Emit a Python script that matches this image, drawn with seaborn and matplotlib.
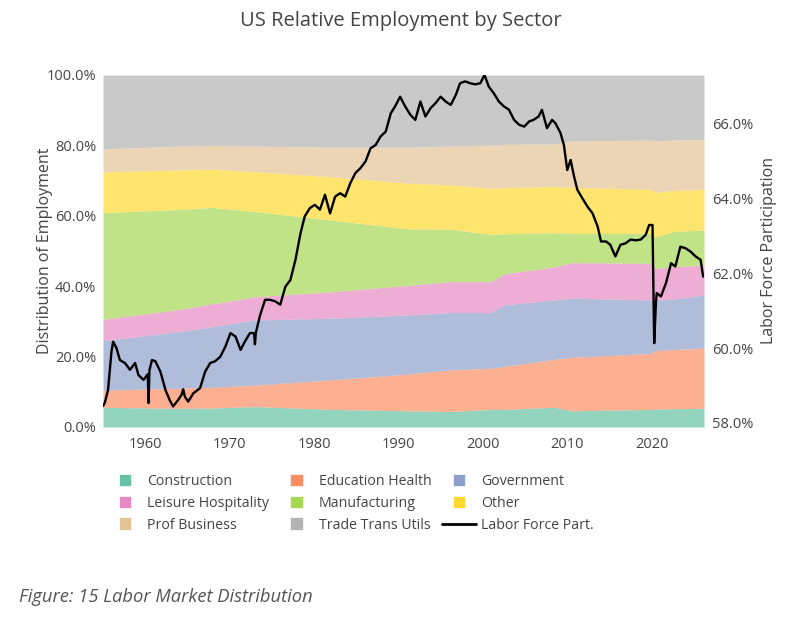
import matplotlib
matplotlib.use("Agg")
import matplotlib.pyplot as plt
import seaborn as sns
from matplotlib.patches import Patch, Rectangle
from matplotlib.lines import Line2D
from matplotlib.legend_handler import HandlerPatch
from matplotlib.ticker import FuncFormatter

# sector shares (% of nonfarm employment)
years = [1955.0, 1964.0, 1968.0, 1973.0, 1982.0, 1991.0, 1996.0, 2001.0,
         2002.5, 2008.5, 2010.5, 2020.0, 2020.4, 2022.5, 2026.2]
construction = [5.6, 5.3, 5.4, 5.8, 5.0, 4.6, 4.4, 5.0, 5.0, 5.6, 4.6, 5.0, 5.1, 5.2, 5.3]
education_health = [4.9, 5.7, 5.9, 6.1, 8.4, 10.4, 11.8, 11.7, 12.2, 13.6, 15.2, 15.9, 16.6, 16.8, 17.1]
government = [14.0, 16.1, 17.2, 18.5, 17.5, 16.8, 16.3, 15.8, 17.5, 16.9, 16.8, 15.2, 14.4, 14.3, 15.1]
leisure_hospitality = [6.1, 6.3, 6.5, 6.6, 7.5, 8.4, 8.8, 8.8, 8.8, 9.4, 10.1, 10.4, 8.9, 9.2, 8.5]
manufacturing = [30.3, 28.4, 27.4, 24.2, 20.4, 16.1, 14.9, 13.4, 11.4, 9.7, 8.3, 8.5, 9.0, 10.0, 10.0]
other = [11.6, 11.2, 10.8, 11.3, 12.3, 13.0, 12.6, 13.1, 13.1, 13.1, 13.1, 12.5, 12.6, 11.7, 11.5]
prof_business = [6.5, 6.8, 6.8, 7.3, 8.4, 10.2, 11.0, 12.3, 12.3, 12.1, 13.2, 14.0, 14.7, 14.3, 14.2]
trade_trans_utils = [21.0, 20.2, 20.0, 20.2, 20.5, 20.5, 20.2, 19.9, 19.7, 19.6, 18.7, 18.5, 18.7, 18.5, 18.3]

sectors = ["Construction", "Education Health", "Government", "Leisure Hospitality",
           "Manufacturing", "Other", "Prof Business", "Trade Trans Utils"]

# labor force participation rate (%), right axis
lfp_years = [1955.0, 1955.2, 1955.6, 1956.0, 1956.2, 1956.6, 1957.0, 1957.6, 1958.2, 1958.8,
             1959.2, 1959.8, 1960.3, 1960.4, 1960.5, 1960.8, 1961.2, 1961.8, 1962.4, 1962.9,
             1963.3, 1963.9, 1964.3, 1964.5, 1964.7, 1965.1, 1965.7, 1966.5, 1967.1, 1967.7,
             1968.3, 1968.9, 1969.5, 1970.1, 1970.7, 1971.3, 1971.8, 1972.4, 1972.9, 1973.0,
             1973.1, 1973.6, 1974.2, 1974.8, 1975.4, 1976.0, 1976.6, 1977.2, 1977.8, 1978.4,
             1978.9, 1979.5, 1980.1, 1980.7, 1981.3, 1981.9, 1982.5, 1983.1, 1983.7, 1984.3,
             1984.9, 1985.5, 1986.1, 1986.7, 1987.3, 1987.9, 1988.5, 1989.1, 1989.6, 1990.2,
             1990.8, 1991.4, 1992.0, 1992.6, 1993.2, 1993.8, 1994.4, 1995.0, 1995.6, 1996.2,
             1996.8, 1997.3, 1997.9, 1998.5, 1999.1, 1999.7, 2000.2, 2000.7, 2001.3, 2001.9,
             2002.5, 2003.1, 2003.7, 2004.3, 2004.9, 2005.5, 2006.0, 2006.6, 2007.0, 2007.6,
             2008.2, 2008.6, 2009.2, 2009.6, 2010.0, 2010.4, 2010.8, 2011.2, 2011.8, 2012.4,
             2013.0, 2013.6, 2014.0, 2014.6, 2015.1, 2015.7, 2016.3, 2016.9, 2017.5, 2018.1,
             2018.7, 2019.3, 2019.7, 2020.1, 2020.3, 2020.5, 2020.6, 2021.1, 2021.7, 2022.3,
             2022.8, 2023.4, 2024.0, 2024.6, 2025.2, 2025.8, 2026.1]
lfp_values = [58.45, 58.53, 58.88, 59.9, 60.17, 60.0, 59.68, 59.6, 59.42, 59.6,
              59.28, 59.15, 59.3, 58.53, 59.4, 59.68, 59.65, 59.37, 58.88, 58.61,
              58.44, 58.61, 58.75, 58.9, 58.7, 58.57, 58.79, 58.93, 59.37, 59.6,
              59.65, 59.77, 60.04, 60.4, 60.31, 59.95, 60.17, 60.4, 60.4, 60.1,
              60.4, 60.87, 61.29, 61.29, 61.25, 61.16, 61.64, 61.82, 62.36, 63.07,
              63.52, 63.74, 63.83, 63.7, 64.1, 63.6, 64.05, 64.14, 64.05, 64.41,
              64.68, 64.81, 64.99, 65.34, 65.43, 65.66, 65.79, 66.28, 66.46, 66.72,
              66.46, 66.24, 66.1, 66.59, 66.19, 66.41, 66.55, 66.72, 66.59, 66.5,
              66.77, 67.08, 67.13, 67.08, 67.05, 67.08, 67.3, 66.99, 66.81, 66.59,
              66.46, 66.37, 66.1, 65.97, 65.92, 66.06, 66.1, 66.19, 66.37, 65.88,
              66.1, 66.01, 65.75, 65.43, 64.76, 65.03, 64.59, 64.23, 64.0, 63.78,
              63.6, 63.25, 62.85, 62.85, 62.76, 62.45, 62.76, 62.8, 62.9, 62.88,
              62.9, 63.03, 63.29, 63.29, 60.13, 61.2, 61.47, 61.38, 61.74, 62.27,
              62.18, 62.71, 62.67, 62.58, 62.45, 62.36, 61.91]

sns.set_theme(style="white")
plt.rcParams['font.family'] = ['Open Sans', 'DejaVu Sans']
text_color = "#444444"
colors = sns.color_palette("Set2", 8)

fig = plt.figure(figsize=(7.97, 6.21), dpi=100)
ax = fig.add_axes([103 / 797, 1 - 427 / 621, 601 / 797, 352 / 621])

ax.stackplot(years, construction, education_health, government, leisure_hospitality,
             manufacturing, other, prof_business, trade_trans_utils,
             colors=colors, alpha=0.7, linewidth=0)
ax.set_xlim(1955.0, 2026.2)
ax.set_ylim(0, 100)
ax.set_xticks([1960, 1970, 1980, 1990, 2000, 2010, 2020])
ax.set_yticks([0, 20, 40, 60, 80, 100])
ax.yaxis.set_major_formatter(FuncFormatter(lambda v, _: f"{v:.1f}%"))
ax.tick_params(axis='both', length=0, labelsize=10.5, labelcolor=text_color)
ax.tick_params(axis='x', pad=7)
ax.tick_params(axis='y', pad=5)
ax.set_ylabel("Distribution of Employment", fontsize=11.5, color=text_color, labelpad=-5)

ax2 = ax.twinx()
sns.lineplot(x=lfp_years, y=lfp_values, ax=ax2, color="black", linewidth=1.7, sort=False)
ax2.set_ylim(57.89, 67.3)
ax2.set_yticks([58, 60, 62, 64, 66])
ax2.yaxis.set_major_formatter(FuncFormatter(lambda v, _: f"{v:.1f}%"))
ax2.tick_params(axis='y', length=0, labelsize=10.5, labelcolor=text_color, pad=6)
ax2.set_ylabel("Labor Force Participation", fontsize=11.5, color=text_color, labelpad=5)

for a in (ax, ax2):
    for s in a.spines.values():
        s.set_visible(False)

fig.text(0.503, 1 - 21 / 621, "US Relative Employment by Sector", ha="center", va="center",
         fontsize=14.5, color=text_color)


def square(legend, orig_handle, xdescent, ydescent, width, height, fontsize):
    s = height * 1.25
    return Rectangle((width / 2 - s / 2 - xdescent, height / 2 - s / 2 - ydescent), s, s)


patches = [Patch(facecolor=c, edgecolor="white", linewidth=0.5, label=n) for c, n in zip(colors, sectors)]
line_handle = Line2D([], [], color="black", linewidth=2, label="Labor Force Part.")
items = patches + [line_handle]
# legend reads row by row in the reference; matplotlib fills columns first
order = [0, 3, 6, 1, 4, 7, 2, 5, 8]
handles = [items[i] for i in order]
leg = fig.legend(handles=handles, labels=[h.get_label() for h in handles], ncol=3,
                 loc="upper left", bbox_to_anchor=(108 / 797, 1 - 474 / 621),
                 frameon=False, fontsize=10.2, handlelength=2.4, handletextpad=0.35,
                 columnspacing=0.75, labelspacing=0.48, borderpad=0, borderaxespad=0,
                 handler_map={Patch: HandlerPatch(patch_func=square)})
for t in leg.get_texts():
    t.set_color(text_color)

fig.text(19 / 797, 1 - 597 / 621, "Figure: 15 Labor Market Distribution", ha="left", va="center",
         fontsize=13.2, style="italic", color="#555555")

fig.savefig("out.png", dpi=100)
